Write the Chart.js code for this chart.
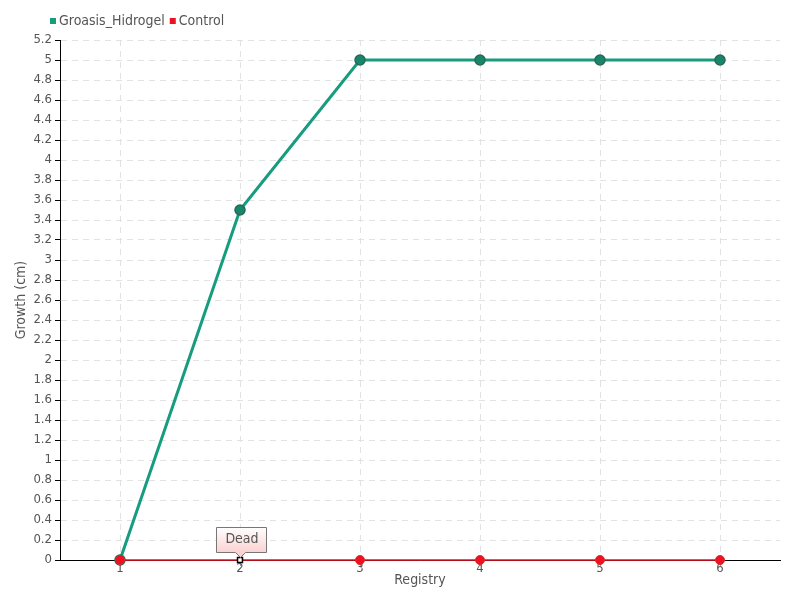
<!DOCTYPE html>
<html>
<head>
<meta charset="utf-8">
<script src="https://cdn.jsdelivr.net/npm/chart.js@4"></script>
<style>
  html, body { margin: 0; padding: 0; background: #fff; }
  #wrap { width: 800px; height: 600px; }
</style>
</head>
<body>
<div id="wrap"><canvas id="chart" width="800" height="600"></canvas></div>
<script>
/* Growth per registry — Groasis vs control */

const registries = ['1', '2', '3', '4', '5', '6'];
const groasisGrowth = [0, 3.5, 5, 5, 5, 5];
const controlGrowth = [0, 0, 0, 0, 0, 0];
const deadLabel = 'Dead';
const deadIndex = 1;

const FONT = "'DejaVu Sans Condensed', 'Liberation Sans Narrow', sans-serif";
const TEAL = '#189c80';
const RED = '#ee1122';
const GREY_TEXT = '#555555';

// legend drawn by hand so it sits tight in the top-left corner
const miniLegend = {
  id: 'miniLegend',
  afterDraw(chart) {
    const ctx = chart.ctx;
    ctx.save();
    ctx.font = '14px ' + FONT;
    ctx.textBaseline = 'middle';
    let x = 50;
    chart.data.datasets.forEach(ds => {
      ctx.fillStyle = ds.legendColor;
      ctx.fillRect(x, 18, 6, 6);
      ctx.fillStyle = GREY_TEXT;
      ctx.fillText(ds.label, x + 9, 21);
      x += 9 + ctx.measureText(ds.label).width + 5;
    });
    ctx.restore();
  }
};

// callout above the control point where the plant died
const deadCallout = {
  id: 'deadCallout',
  afterDatasetsDraw(chart) {
    const xs = chart.scales.x, ys = chart.scales.y;
    const px = xs.getPixelForValue(deadIndex);
    const py = ys.getPixelForValue(controlGrowth[deadIndex]);
    const ctx = chart.ctx;
    const w = 50, h = 25;
    const left = px - 24, top = py - 33, bottom = top + h;
    ctx.save();
    const g = ctx.createLinearGradient(0, top, 0, bottom);
    g.addColorStop(0, '#ffffff');
    g.addColorStop(1, '#fbd2d2');
    ctx.beginPath();
    ctx.moveTo(left + 0.5, top + 0.5);
    ctx.lineTo(left + w + 0.5, top + 0.5);
    ctx.lineTo(left + w + 0.5, bottom + 0.5);
    ctx.lineTo(px + 5.5, bottom + 0.5);
    ctx.lineTo(px + 0.5, bottom + 5.5);
    ctx.lineTo(px - 4.5, bottom + 0.5);
    ctx.lineTo(left + 0.5, bottom + 0.5);
    ctx.closePath();
    ctx.fillStyle = g;
    ctx.fill();
    ctx.strokeStyle = '#777777';
    ctx.lineWidth = 1;
    ctx.stroke();
    ctx.fillStyle = GREY_TEXT;
    ctx.font = '14px ' + FONT;
    ctx.textAlign = 'center';
    ctx.textBaseline = 'middle';
    ctx.fillText(deadLabel, left + w / 2 + 1, top + h / 2);
    ctx.restore();
  }
};

const ctlStyle = controlGrowth.map((v, i) => i === deadIndex ? 'rect' : 'circle');
const ctlFill = controlGrowth.map((v, i) => i === deadIndex ? '#ffffff' : RED);
const ctlBorder = controlGrowth.map((v, i) => i === deadIndex ? '#000000' : '#d42a2a');
const ctlRadius = controlGrowth.map((v, i) => i === deadIndex ? 3.5 : 4.5);
const ctlBorderW = controlGrowth.map((v, i) => i === deadIndex ? 1.5 : 1);

new Chart(document.getElementById('chart'), {
  type: 'line',
  data: {
    labels: registries,
    datasets: [
      {
        label: 'Groasis_Hidrogel',
        data: groasisGrowth,
        legendColor: '#1a9a7e',
        borderColor: TEAL,
        borderWidth: 3,
        pointRadius: 5,
        pointBackgroundColor: '#17876b',
        pointBorderColor: '#2c6656',
        pointBorderWidth: 1.5,
        tension: 0,
        clip: false,
        order: 2,
      },
      {
        label: 'Control',
        data: controlGrowth,
        legendColor: RED,
        borderColor: RED,
        borderWidth: 1.5,
        pointStyle: ctlStyle,
        pointRadius: ctlRadius,
        pointBackgroundColor: ctlFill,
        pointBorderColor: ctlBorder,
        pointBorderWidth: ctlBorderW,
        tension: 0,
        clip: false,
        order: 1,
      },
    ],
  },
  options: {
    responsive: false,
    animation: false,
    layout: { padding: { top: 40, left: 0, right: 20, bottom: 0 } },
    plugins: {
      legend: { display: false },
      tooltip: { enabled: false },
    },
    scales: {
      x: {
        offset: true,
        afterFit: s => { s.height = 40; },
        grid: {
          offset: false,
          color: '#e2e2e2',
          tickColor: '#999999',
          tickLength: 6,
        },
        border: { display: true, color: '#000000', width: 1, dash: [6, 5] },
        ticks: { color: GREY_TEXT, padding: -5, font: { family: FONT, size: 13 } },
        title: {
          display: true, text: 'Registry', color: GREY_TEXT,
          font: { family: FONT, size: 14 }, padding: { top: 0, bottom: 11 },
        },
      },
      y: {
        min: 0,
        max: 5.2,
        afterFit: s => { s.width = 60; },
        grid: {
          color: '#e2e2e2',
          tickColor: '#000000',
          tickLength: 5,
        },
        border: { display: true, color: '#000000', width: 1, dash: [6, 5] },
        ticks: {
          stepSize: 0.2,
          color: GREY_TEXT,
          padding: 3,
          font: { family: FONT, size: 13 },
          callback: v => String(+v.toFixed(1)),
        },
        title: {
          display: true, text: 'Growth (cm)', color: GREY_TEXT,
          font: { family: FONT, size: 14 }, padding: { top: 13, bottom: 0 },
        },
      },
    },
  },
  plugins: [miniLegend, deadCallout],
});
</script>
</body>
</html>
